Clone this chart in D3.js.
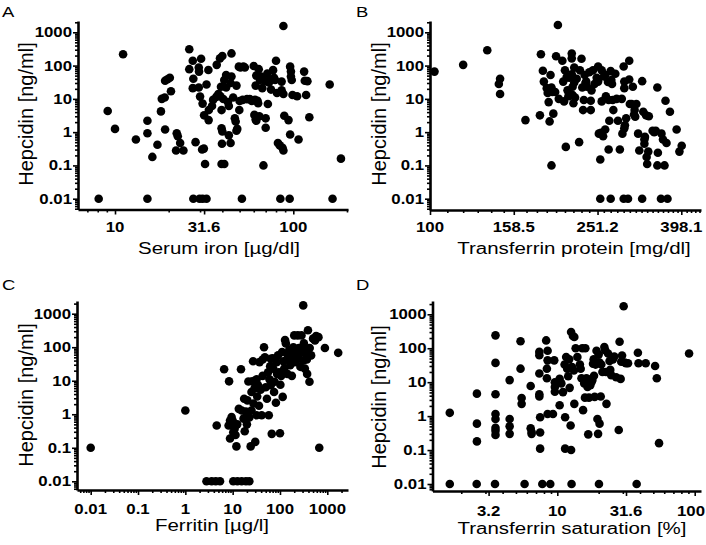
<!DOCTYPE html>
<html><head><meta charset="utf-8">
<script src="https://cdn.jsdelivr.net/npm/d3@7"></script>
<style>body{margin:0;background:#fff}svg{display:block}</style>
</head><body><svg id="chart" width="706" height="545"></svg>
<script>
// ---------- DATA ----------
// Panel A: [serum iron µg/dl, hepcidin ng/ml]
const serumIronVsHepcidin = [[8.1,0.01],[9.1,4.3],[10,1.25],[11.1,220],[13.1,0.6],[15.2,0.01],[15.2,2.2],[15.2,0.93],[16.2,0.18],[17.3,0.42],[18.1,4.2],[18.3,10],[19,11],[19.1,1.2],[19.1,35],[19.7,39],[20.3,43],[20.6,17],[22.2,0.93],[22.5,0.75],[22,0.28],[23.2,0.47],[24.2,0.28],[26.1,310],[26.1,78],[27.3,140],[27.5,40],[27.3,21],[28.3,0.5],[29.5,88],[29.6,66],[29.5,22],[30,11.7],[30.4,160],[30.8,0.30],[31.5,0.32],[31,7.2],[31.6,3.2],[32,0.11],[27.5,0.01],[29.8,0.01],[31,0.01],[32.6,0.01],[32.6,27],[33.4,74],[33.5,2.3],[33.6,4.6],[35,6.1],[35.5,9.3],[37,11.5],[37.2,105],[38,14],[38.8,165],[39,12],[39.3,23],[39.6,4.6],[39.6,1.3],[40,1.04],[39.8,0.45],[39.6,0.11],[41,0.11],[40,195],[40.5,9.9],[41,37],[42,52],[42,22],[43,8],[43.5,6.1],[43.5,0.8],[44.5,0.47],[45,232],[44.5,30],[45,47],[46,11],[47,2.6],[47.5,2.1],[48,1.1],[48.5,1.25],[48,25],[49.5,93],[49.8,4.6],[50,8.6],[50.5,88],[52,9.3],[51.5,0.01],[52.5,93],[53.5,88],[55,9.8],[57,9.8],[58.5,8.6],[60,97],[60.5,3.3],[61,9.3],[61.5,2.4],[62,2.2],[63,8.7],[61.5,25],[62,50],[64,78],[64.5,3],[63.5,7.4],[65,37],[66,47],[67,21],[68,0.1],[69.5,34],[70,1.35],[70,2.6],[71.5,58],[72,7],[73,31],[74,37],[75,19],[77,73],[78,43],[79,37],[80,140],[81,15],[82,0.47],[84,0.4],[86,33],[86,18],[87,0.34],[88,0.28],[88,1550],[88,14],[89,3.1],[84.6,0.01],[95.4,0.01],[94,2.3],[96,93],[97,66],[97,47],[98,37],[96,0.85],[99,13],[105,12],[107,0.6],[115,66],[116,35],[120,34],[118,13],[123,2.8],[160,27],[166,0.01],[185,0.16]];

// Panel B: [transferrin protein mg/dl, hepcidin ng/ml]
const transferrinVsHepcidin = [[102.5,66],[120,105],[137,290],[146,28],[147,40],[147,14],[169,2.3],[183,3.2],[184,220],[186,70],[187,33],[190,21],[191,15],[192,8],[193,2.1],[194,52],[195,22],[196,16],[197,3.6],[195,0.1],[199,16],[200,190],[202,1650],[203,10],[207,140],[208,33],[209,8.4],[211,0.36],[210,72],[212,45],[213,18],[214,12],[215,43],[218,230],[218,165],[218,55],[219,13],[219,23],[220,7.4],[221,31],[221,87],[222,11],[224,40],[227,0.5],[228,72],[230,160],[231,22],[232,4.6],[233,9.2],[234,52],[235,30],[236,33],[237,23],[240,63],[242,8.8],[242,4.6],[243,18],[245,72],[247,28],[250,43],[252,94],[252,33],[253,0.9],[255,0.15],[256,0.95],[257,72],[257,8.4],[259,0.75],[260,47],[262,1.2],[262,52],[263,12],[266,32],[267,9.2],[267,0.3],[268,2.2],[270,68],[271,37],[272,28],[273,9.2],[274,4.6],[277,57],[279,10],[281,2.2],[284,0.3],[287,10],[288,0.9],[290,94],[291,1.3],[291,21],[292,1.6],[291,33],[294,2.6],[299,140],[299,38],[300,7],[303,7],[305,23],[307,3.4],[308,4.6],[309,2.9],[311,7],[314,0.9],[316,0.28],[321,34],[323,4.1],[325,0.45],[325,0.6],[326,0.72],[328,3.2],[329,0.18],[330,0.11],[332,0.26],[333,3],[340,1.1],[343,1],[346,1.1],[349,22],[350,0.24],[349,0.1],[357,0.9],[360,0.6],[363,0.1],[365,8.8],[367,0.47],[374,4.1],[388,1.2],[394,0.26],[399,0.39],[255,0.01],[270,0.01],[290,0.01],[297,0.01],[321,0.01],[356,0.01],[369,0.01]];

// Panel C: [ferritin µg/l, hepcidin ng/ml]
const ferritinVsHepcidin = [[0.01,0.1],[1,1.3],[2.8,0.01],[3.6,0.01],[4.4,0.01],[5.4,0.01],[10.3,0.01],[12.6,0.01],[15.5,0.01],[19.1,0.01],[22.5,0.01],[4.6,0.46],[6.6,22],[8.4,9.6],[8.8,0.65],[8.2,0.46],[8.8,0.19],[9.5,0.83],[10.2,0.47],[10,0.65],[10.3,0.29],[11,0.37],[11.5,0.24],[12,0.11],[12.5,0.5],[13.5,1.45],[15,22],[15.5,1.3],[17,0.74],[17.5,2.9],[18,0.31],[19,1.2],[20,0.5],[20.5,2.6],[21.5,9.5],[22.5,0.8],[24,0.11],[25,1.3],[25,4.6],[26,9.6],[27,38],[27.5,2.1],[29,6],[30,0.15],[32,0.93],[32,11],[33,3.4],[34,7.6],[36,1.8],[37,36],[39,5.4],[41,0.93],[43,43],[43,14],[46,100],[48,50],[50,6.4],[53,2.9],[56,18],[58,0.93],[60,11],[62,27],[64,45],[64,7.3],[67,0.26],[70,47],[72,23],[75,4.6],[77,9.3],[82,2.2],[85,36],[87,16],[91,57],[95,18],[100,0.27],[102,7.6],[106,14],[111,72],[114,3.3],[118,38],[123,23],[128,165],[133,130],[140,43],[143,16],[148,57],[158,85],[164,29],[170,45],[178,14],[185,60],[192,100],[200,225],[203,36],[208,50],[215,72],[222,40],[238,225],[245,55],[252,95],[265,72],[270,26],[285,225],[310,1770],[315,40],[320,130],[335,23],[345,64],[360,85],[370,43],[375,16],[390,320],[420,9.3],[425,95],[455,57],[500,180],[550,160],[580,215],[650,200],[676,0.1],[890,95],[1700,68]];

// Panel D: [transferrin saturation %, hepcidin ng/ml]
const saturationVsHepcidin = [[1.65,1.25],[2.6,4.6],[2.6,0.6],[2.6,0.18],[3.55,240],[3.55,37],[3.55,4.4],[3.55,1.15],[3.55,0.82],[3.55,0.45],[3.55,0.37],[3.55,0.28],[4.5,11.5],[4.5,0.82],[4.5,0.5],[4.5,0.3],[5.4,160],[5.4,25],[5.5,3.4],[5.5,2.3],[6.4,7.7],[6.4,0.44],[6.5,0.34],[6.5,0.3],[7.4,78],[7.4,62],[7.4,18],[7.4,4.4],[7.4,3.8],[7.5,0.93],[7.5,0.33],[7.5,0.11],[8.3,170],[8.5,84],[8.5,44],[8.4,25],[8.4,13],[8.5,1.15],[9.3,1.15],[9.5,44],[9.6,10],[9.6,7.2],[9.6,5.2],[10.4,2.1],[10.4,12.5],[10.7,9.2],[11,5.1],[11.3,33],[11.4,0.93],[11.4,0.11],[11.6,55],[11.8,25],[12,15],[12.2,47],[12.3,6.8],[12.5,0.53],[12.6,0.1],[12.6,300],[13,230],[13.3,215],[12.8,28],[13.2,22],[13.3,2.3],[13.6,100],[14,55],[14.6,33],[14.8,25],[15,13],[15.2,100],[15.4,1.5],[15.6,11.5],[15.7,9.2],[15.9,3.5],[16,100],[16.3,13],[16.6,7.2],[16.8,0.29],[17,3.5],[17.2,12],[17.4,8.2],[17.7,10],[18,11.5],[18.2,35],[18.4,47],[18.5,15.5],[18.7,3.7],[19,33],[19.3,84],[19.6,0.82],[19.8,0.3],[20,65],[20.3,0.6],[20.3,38],[20.7,3.8],[20.9,33],[21.3,20],[22,108],[22.3,88],[22.6,20],[22.8,2.3],[23.4,70],[24,42],[24.3,23],[24.7,16],[25.4,47],[26,57],[26.8,14],[28,0.39],[28.4,155],[28.9,12.5],[29.2,40],[29.6,61],[30.4,1720],[31,38],[31.6,36],[32.7,36],[38.6,74],[39,36],[44,36],[51.5,30],[53,13],[55,0.16],[91,70],[1.65,0.01],[2.59,0.01],[3.52,0.01],[5.78,0.01],[7.78,0.01],[8.89,0.01],[12.7,0.01],[20.1,0.01],[37.8,0.01]];

// Tick values / labels
const hepcidinTicks = [0.01, 0.1, 1, 10, 100, 1000];
const hepcidinLabels = ["0.01", "0.1", "1", "10", "100", "1000"];
const ironTicks = [10, 31.6, 100];
const ironLabels = ["10", "31.6", "100"];
const transferrinTicks = [100, 158.5, 251.2, 398.1];
const transferrinLabels = ["100", "158.5", "251.2", "398.1"];
const ferritinTicks = [0.01, 0.1, 1, 10, 100, 1000];
const ferritinLabels = ["0.01", "0.1", "1", "10", "100", "1000"];
const saturationTicks = [3.162, 10, 31.62, 100];
const saturationLabels = ["3.2", "10", "31.6", "100"];

const panelLetters = ["A", "B", "C", "D"];
const xTitles = ["Serum iron [µg/dl]", "Transferrin protein [mg/dl]", "Ferritin [µg/l]", "Transferrin saturation [%]"];
const yTitle = "Hepcidin [ng/ml]";

// ---------- LAYOUT ----------
const FONT = "'Liberation Sans', Arial, Helvetica, sans-serif";
const SX = 1.28; // horizontal stretch of horizontal text in the reference

function logDecades(lo, hi) {
  const out = [];
  for (let e = -4; e <= 4; e++) for (let k = 1; k <= 9; k++) {
    const v = k * Math.pow(10, e);
    if (v >= lo && v <= hi) out.push(v);
  }
  return out;
}

const panels = [
  { pts: serumIronVsHepcidin, xt: ironTicks, xl: ironLabels,
    xA: [10, 115], xB: [100, 293.3], xR: [78, 348],
    yA: [1000, 32.3], yB: [0.01, 198.7], yR: [209.5, 21],
    minor: "decade", titleX: 219, titleY: 254, yTitleX: 32.5, yTitleY: 114,
    letterX: 2, letterY: 17, tickDy: 22.5 },
  { pts: transferrinVsHepcidin, xt: transferrinTicks, xl: transferrinLabels,
    xA: [100, 430], xB: [398.1, 681.3], xR: [430, 701],
    yA: [1000, 32.3], yB: [0.01, 198.7], yR: [210, 21],
    minor: "tens", titleX: 574, titleY: 254, yTitleX: 385.5, yTitleY: 114,
    letterX: 356, letterY: 17, tickDy: 22 },
  { pts: ferritinVsHepcidin, xt: ferritinTicks, xl: ferritinLabels,
    xA: [0.01, 90.7], xB: [1000, 327.3], xR: [77, 348],
    yA: [1000, 313.7], yB: [0.01, 481.3], yR: [490, 301],
    minor: "decade", titleX: 212, titleY: 531, yTitleX: 32.5, yTitleY: 395,
    letterX: 2, letterY: 290, tickDy: 23.5 },
  { pts: saturationVsHepcidin, xt: saturationTicks, xl: saturationLabels,
    xA: [10, 557.3], xB: [100, 694.7], xR: [432.5, 701],
    yA: [1000, 314.3], yB: [0.01, 484], yR: [491, 301],
    minor: "decade", titleX: 572, titleY: 534, yTitleX: 385.5, yTitleY: 397,
    letterX: 356, letterY: 290, tickDy: 24.5 }
];

function scaleFromAnchors(a, b, range) {
  const k = (b[1] - a[1]) / (Math.log10(b[0]) - Math.log10(a[0]));
  const v0 = Math.pow(10, Math.log10(a[0]) + (range[0] - a[1]) / k);
  const v1 = Math.pow(10, Math.log10(a[0]) + (range[1] - a[1]) / k);
  return d3.scaleLog().domain([v0, v1]).range(range);
}

function stretchedText(g, x, y, str, opt) {
  const sx = opt.sx || SX;
  const t = g.append("text")
    .attr("transform", `translate(${x},${y}) scale(${sx},1)`)
    .attr("text-anchor", opt.anchor || "middle")
    .attr("font-family", FONT)
    .attr("font-size", opt.size)
    .attr("font-weight", opt.weight || "normal")
    .attr("fill", "#000")
    .text(str);
  // keep text inside the 706px canvas
  const bb = t.node().getBBox();
  const right = x + (bb.x + bb.width) * sx;
  if (right > 705) t.attr("transform", `translate(${x - (right - 705)},${y}) scale(${sx},1)`);
  return t;
}

const svg = d3.select("#chart");

panels.forEach((p, i) => {
  const x = scaleFromAnchors(p.xA, p.xB, p.xR);
  const y = scaleFromAnchors(p.yA, p.yB, p.yR);
  const g = svg.append("g");
  const axisY = p.yR[0];
  const axisX = p.xR[0];

  // minor ticks
  const [xd0, xd1] = x.domain();
  let xMinor = p.minor === "tens" ? d3.range(110, 450, 10) : logDecades(xd0, xd1);
  xMinor = xMinor.filter(v => v >= xd0 && v <= xd1 && !p.xt.some(t => Math.abs(t - v) / t < 0.01));
  const yd = y.domain();
  const yMinor = logDecades(Math.min(yd[0], yd[1]), Math.max(yd[0], yd[1])).filter(v => !hepcidinTicks.includes(v));

  const gxMinor = g.append("g").attr("transform", `translate(0,${axisY})`)
    .call(d3.axisBottom(x).tickValues(xMinor).tickSize(3).tickSizeOuter(0).tickFormat(""));
  gxMinor.select(".domain").remove();
  const gyMinor = g.append("g").attr("transform", `translate(${axisX},0)`)
    .call(d3.axisLeft(y).tickValues(yMinor).tickSize(3).tickSizeOuter(0).tickFormat(""));
  gyMinor.select(".domain").remove();

  const gx = g.append("g").attr("transform", `translate(0,${axisY})`)
    .call(d3.axisBottom(x).tickValues(p.xt).tickSize(5).tickSizeOuter(0).tickFormat(""));
  const gy = g.append("g").attr("transform", `translate(${axisX},0)`)
    .call(d3.axisLeft(y).tickValues(hepcidinTicks).tickSize(5).tickSizeOuter(0).tickFormat(""));

  [gxMinor, gyMinor, gx, gy].forEach(a => a.selectAll(".tick line").attr("stroke", "#000").attr("stroke-width", 1.6));
  [gx, gy].forEach(a => a.select(".domain").attr("stroke", "#000").attr("stroke-width", 2.6));

  // tick labels
  p.xt.forEach((v, j) => stretchedText(g, x(v), axisY + p.tickDy, p.xl[j], { size: 14, weight: "bold", sx: 1.2 }));
  hepcidinTicks.forEach((v, j) => stretchedText(g, axisX - 6, y(v) + 5, hepcidinLabels[j], { size: 14, weight: "bold", anchor: "end", sx: 1.2 }));

  // titles
  stretchedText(g, p.titleX, p.titleY, xTitles[i], { size: 16 });
  g.append("text")
    .attr("transform", `translate(${p.yTitleX},${p.yTitleY}) rotate(-90)`)
    .attr("text-anchor", "middle").attr("font-family", FONT).attr("font-size", 20)
    .attr("fill", "#000").text(yTitle);
  stretchedText(g, p.letterX, p.letterY, panelLetters[i], { size: 15, anchor: "start", sx: 1.23 });

  // points
  g.append("g").selectAll("circle").data(p.pts).join("circle")
    .attr("cx", d => x(d[0])).attr("cy", d => y(d[1])).attr("r", 4.3).attr("fill", "#000");
});
</script>
</body></html>
